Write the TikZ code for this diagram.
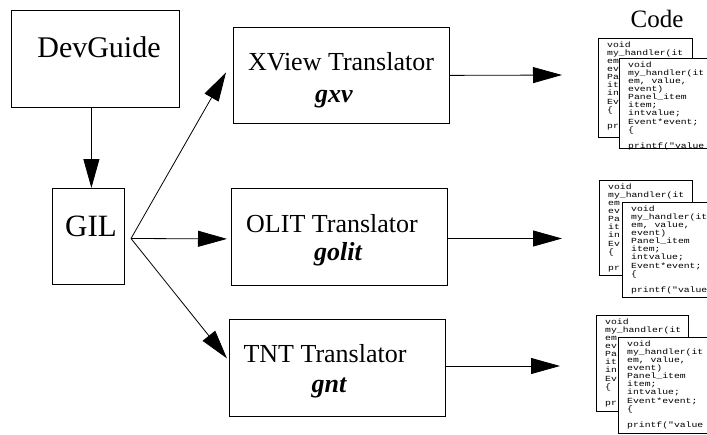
\documentclass[tikz,border=0pt]{standalone}
\usepackage{fontspec}
\setmainfont{Liberation Serif}
\newfontfamily\codefont[FakeStretch=1.25]{Liberation Mono}
\usetikzlibrary{arrows.meta,calc}
\newcommand{\codetext}{void\\my\_handler(it\\em, value,\\event)\\Panel\_item\\item;\\intvalue;\\Event*event;\\\{\\\mbox{}\\printf("value}
\newcommand{\backtext}{void\\my\_handler(it\\em\\ev\\Pa\\it\\in\\Ev\\\{\\\mbox{}\\pr}
\newcommand{\codegroup}[8]{%
  \node[cbox, minimum width=#4, minimum height=#5] (#1b) at (#2,#3) {};
  \node[ctext] (#1bt) at ($(#1b.north west)+(9,3.5)$) {\backtext};
  \node[cbox, minimum width=100, minimum height=#8] (#1f) at (#6,#7) {};
  \node[ctext] (#1ft) at ($(#1f.north west)+(9,3.5)$) {\codetext};
}
\tikzset{
  box/.style={draw, line width=0.8pt, anchor=north west, inner sep=0},
  arr/.style={line width=0.8pt, -{Triangle[length=29pt,width=16pt]}},
  cbox/.style={draw, fill=white, line width=1.1pt, anchor=north west, inner sep=0},
  ctext/.style={anchor=north west, inner sep=0, align=left, font=\codefont\fontsize{7.8}{8.1}\selectfont},
  lbl/.style={anchor=base, inner sep=0},
}
\begin{document}
\begin{tikzpicture}[x=1pt,y=-1pt]
\useasboundingbox (0,0) rectangle (707,434);
% boxes
\node[box, minimum width=168, minimum height=97] (dev) at (11,10) {};
\node[box, minimum width=72, minimum height=96] (gil) at (52,188) {};
\node[box, minimum width=216, minimum height=96] (xv) at (233,27) {};
\node[box, minimum width=216, minimum height=97] (ol) at (231,188) {};
\node[box, minimum width=216, minimum height=97] (tn) at (229,319) {};
% labels
\node[lbl, font=\fontsize{30}{36}\selectfont] (devl) at (99,57) {DevGuide};
\node[lbl, font=\fontsize{31}{36}\selectfont] (gill) at (91,236) {GIL};
\node[lbl, font=\fontsize{26}{30}\selectfont] (xvl) at (341,70) {XView Translator};
\node[lbl, font=\fontsize{26}{30}\selectfont\bfseries\itshape] (xvs) at (334,102) {gxv};
\node[lbl, font=\fontsize{26}{30}\selectfont] (oll) at (332,232) {OLIT Translator};
\node[lbl, font=\fontsize{26}{30}\selectfont\bfseries\itshape] (ols) at (338,260) {golit};
\node[lbl, font=\fontsize{26}{30}\selectfont] (tnl) at (325,362) {TNT Translator};
\node[lbl, font=\fontsize{26}{30}\selectfont\bfseries\itshape] (tns) at (329,392) {gnt};
\node[lbl, font=\fontsize{25}{30}\selectfont] (code) at (657,27) {Code};
% code stacks
\codegroup{ca}{598}{38}{94}{99}{619}{58}{90}
\codegroup{cb}{599}{180}{93}{95}{622}{202}{95}
\codegroup{cc}{596}{315}{92}{96}{618}{337}{96}
% connectors
\coordinate (fork) at (131,238.5);
\coordinate (e1) at (562,75);
\coordinate (e2) at (562,238.5);
\coordinate (e3) at (560,366);
\draw[arr] ([xshift=-4]dev.south) -- ([xshift=3]gil.north);
\draw[arr] (fork) -- ([shift={(-7,-3)}]xv.west);
\draw[arr] (fork) -- ([shift={(-4,2)}]ol.west);
\draw[arr] (fork) -- ([shift={(-2,-9.5)}]tn.west);
\draw[arr] (xv.east) -- (e1);
\draw[arr] (ol.east |- e2) -- (e2);
\draw[arr] (tn.east |- e3) -- (e3);
\end{tikzpicture}
\end{document}
